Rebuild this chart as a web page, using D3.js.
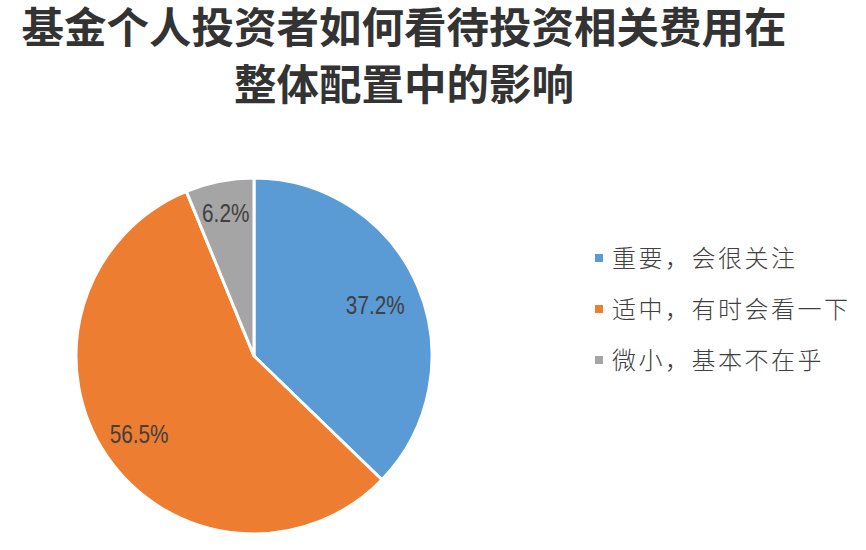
<!DOCTYPE html>
<html>
<head>
<meta charset="utf-8">
<script src="https://cdn.jsdelivr.net/npm/d3@7"></script>
<style>
  html, body { margin: 0; padding: 0; background: #ffffff; }
  svg { display: block; }
</style>
</head>
<body>
<svg id="chart" width="866" height="550"></svg>
<script>
const titleLines = ["基金个人投资者如何看待投资相关费用在", "整体配置中的影响"];
const categories = ["重要，会很关注", "适中，有时会看一下", "微小，基本不在乎"];
const values = [37.2, 56.5, 6.2];
const valueLabels = ["37.2%", "56.5%", "6.2%"];
const colors = ["#5B9BD5", "#ED7D31", "#A5A5A5"];
const labelRadiusFactor = [0.74, 0.78, 0.82];

const svg = d3.select("#chart");
const W = 866, H = 550;
svg.append("rect").attr("width", W).attr("height", H).attr("fill", "#fff");

// Title
const title = svg.append("g");
title.selectAll("text").data(titleLines).join("text")
  .attr("x", 404)
  .attr("y", (d, i) => 43 + i * 57)
  .attr("text-anchor", "middle")
  .attr("font-family", "'Noto Sans CJK SC', sans-serif")
  .attr("font-weight", "bold")
  .attr("font-size", 42.5)
  .attr("fill", "#333333")
  .text(d => d);

// Pie
const cx = 254, cy = 356, R = 178;
const pie = d3.pie().sort(null).value(d => d)(values);
const arc = d3.arc().innerRadius(0).outerRadius(R);
const g = svg.append("g").attr("transform", `translate(${cx},${cy})`);
g.selectAll("path").data(pie).join("path")
  .attr("d", arc)
  .attr("fill", (d, i) => colors[i])
  .attr("stroke", "#ffffff")
  .attr("stroke-width", 3)
  .attr("stroke-linejoin", "round");

g.selectAll("text.lbl").data(pie).join("text")
  .attr("class", "lbl")
  .attr("transform", (d, i) => {
    const r = R * labelRadiusFactor[i];
    const c = d3.arc().innerRadius(r).outerRadius(r).centroid(d);
    return `translate(${c[0]},${c[1]}) scale(0.83,1)`;
  })
  .attr("text-anchor", "middle")
  .attr("dy", "0.36em")
  .attr("font-family", "'Liberation Sans', Arial, sans-serif")
  .attr("font-size", 25)
  .attr("fill", "#404040")
  .text((d, i) => valueLabels[i]);

// Legend
const legend = svg.append("g").attr("transform", "translate(595,258)");
const rows = legend.selectAll("g").data(categories).join("g")
  .attr("transform", (d, i) => `translate(0,${i * 51})`);
rows.append("rect")
  .attr("x", 0).attr("y", -4).attr("width", 8).attr("height", 8)
  .attr("fill", (d, i) => colors[i]);
rows.append("text")
  .attr("x", 17).attr("y", 0).attr("dy", "0.36em")
  .attr("font-family", "'Noto Sans CJK SC', sans-serif")
  .attr("font-weight", 300)
  .attr("font-size", 24)
  .attr("letter-spacing", 2.5)
  .attr("fill", "#404040")
  .text(d => d);
</script>
</body>
</html>
